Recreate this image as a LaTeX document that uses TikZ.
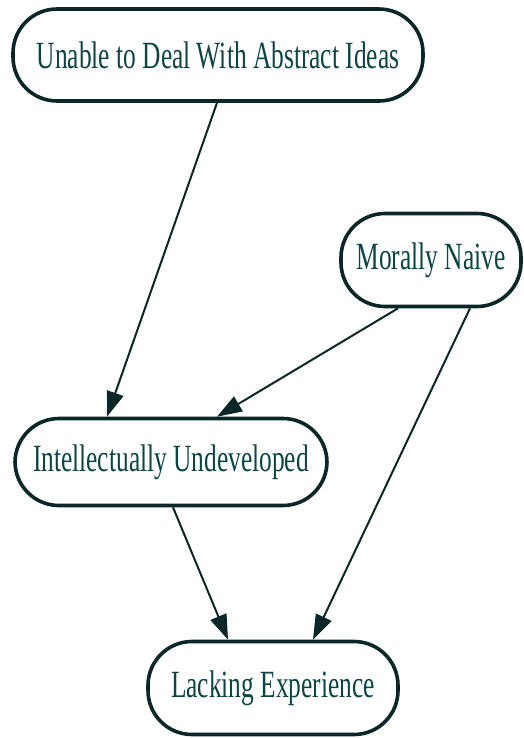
\documentclass[tikz,border=0pt]{standalone}
\usepackage{fontspec}
\usetikzlibrary{arrows.meta}
\newfontfamily\nf[FakeStretch=0.66]{Liberation Serif}
\definecolor{edgec}{HTML}{0A2626}
\definecolor{textc}{HTML}{0D4545}
\begin{document}
\begin{tikzpicture}[x=1pt,y=-1pt,
  box/.style={draw=edgec, line width=3.6pt, rounded corners=44pt, fill=white,
    inner sep=0pt, font=\nf\fontsize{38.5}{40}\selectfont, text=textc},
  arr/.style={draw=edgec, line width=2pt, -{Triangle[length=25pt,width=17pt]}}]
\useasboundingbox (0,0) rectangle (524,738);
\node[box, minimum width=410pt, minimum height=92pt] (n1) at (218,55) {Unable to Deal With Abstract Ideas};
\node[box, minimum width=180pt, minimum height=93pt] (n2) at (431,260) {Morally Naive};
\node[box, minimum width=312pt, minimum height=87pt] (n3) at (171,462) {Intellectually Undeveloped};
\node[box, minimum width=250pt, minimum height=93pt] (n4) at (273,688) {Lacking Experience};
\draw[arr] ([xshift=-1pt]n1.south) -- ([xshift=-64pt]n3.north);
\draw[arr] ([xshift=-33pt]n2.south) -- ([xshift=46pt]n3.north);
\draw[arr] ([xshift=39pt]n2.south) -- ([xshift=40pt]n4.north);
\draw[arr] ([xshift=2pt]n3.south) -- ([xshift=-45pt]n4.north);
\end{tikzpicture}
\end{document}
